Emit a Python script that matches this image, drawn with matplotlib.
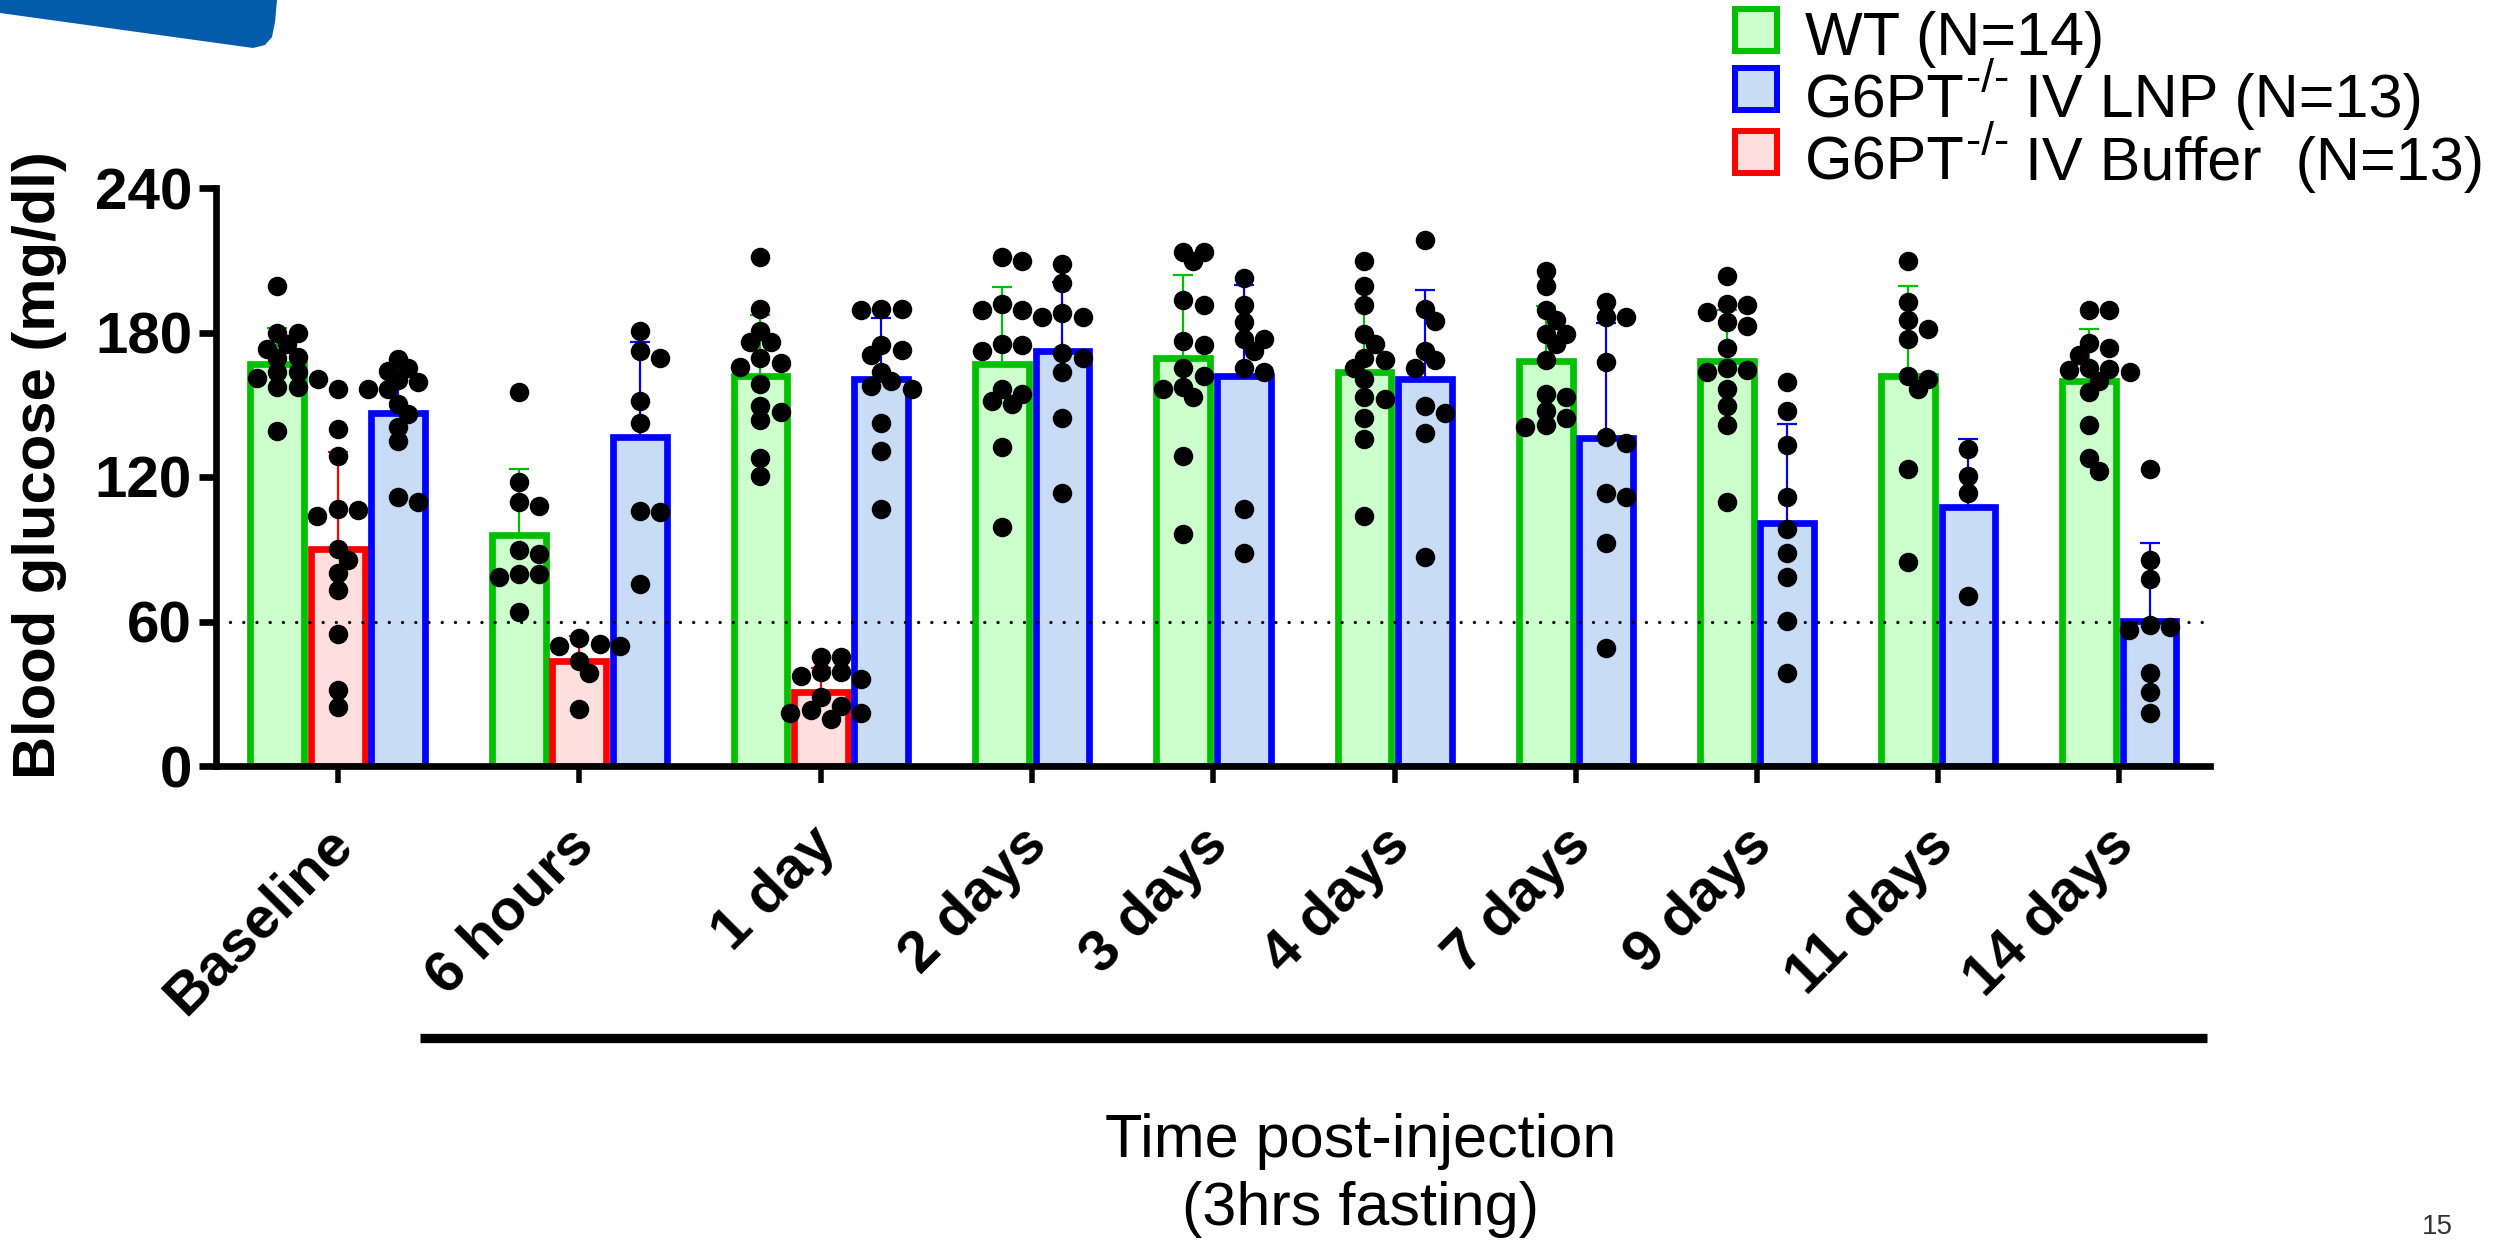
import numpy as np
import matplotlib
matplotlib.use("Agg")
import matplotlib.pyplot as plt
from matplotlib.lines import Line2D
from matplotlib.patches import Polygon, Rectangle
import matplotlib.transforms as mtransforms

plt.rcParams['font.family'] = ['Liberation Sans', 'DejaVu Sans']

# ---------------- data ----------------
categories = ["Baseline", "6 hours", "1 day", "2 days", "3 days",
              "4 days", "7 days", "9 days", "11 days", "14 days"]

wt_mean = [167.0, 96.0, 162.0, 167.0, 169.5, 163.5, 168.0, 168.0, 162.0, 160.0]
wt_sd = [15.0, 27.4, 25.4, 31.8, 34.3, 28.3, 23.2, 21.4, 37.4, 21.4]

lnp_mean = [146.6, 136.6, 160.6, 172.3, 162.0, 160.6, 136.0, 101.1, 107.7, 60.3]
lnp_sd = [20.5, 39.4, 25.4, 28.8, 37.7, 36.9, 48.0, 40.9, 28.1, 32.3]

buffer_mean = [90.0, 43.4, 30.9]
buffer_sd = [40.3, 10.6, 9.7]

wt_points = [
    [199.2, 180.0, 179.7, 175.4, 173.2, 170.0, 169.4, 163.7, 163.7, 161.2, 160.6, 157.2, 157.2, 139.2],
    [155.5, 117.8, 108.0, 109.7, 88.0, 89.7, 79.7, 78.5, 79.7, 63.8],
    [211.4, 189.8, 180.5, 176.2, 176.2, 169.4, 167.5, 165.8, 158.6, 149.5, 146.9, 143.5, 127.7, 120.5],
    [209.7, 211.4, 192.0, 189.4, 189.4, 174.9, 175.4, 172.3, 156.5, 154.6, 151.4, 150.4, 132.5, 99.4],
    [213.4, 213.4, 209.5, 193.7, 191.5, 174.9, 176.6, 165.4, 162.0, 157.4, 153.4, 156.4, 128.6, 96.5],
    [209.5, 199.4, 191.5, 179.5, 175.4, 169.4, 168.5, 165.4, 160.6, 153.4, 152.2, 144.4, 135.8, 103.7],
    [205.4, 199.4, 189.4, 185.1, 179.5, 179.5, 175.4, 168.5, 153.4, 154.6, 147.4, 144.4, 140.6, 141.4],
    [203.5, 188.6, 192.0, 191.5, 184.3, 182.6, 173.5, 163.7, 165.4, 164.6, 156.5, 149.5, 141.4, 109.7],
    [209.5, 192.5, 185.1, 181.4, 177.4, 162.0, 160.6, 156.5, 123.4, 84.5],
    [189.4, 189.4, 175.7, 173.7, 170.6, 165.4, 165.0, 164.6, 163.7, 159.8, 155.5, 141.4, 127.7, 122.6],
]

lnp_points = [
    [168.9, 164.2, 165.1, 159.4, 160.3, 156.4, 156.4, 150.5, 146.1, 140.6, 134.9, 109.7, 111.8],
    [180.5, 172.3, 169.6, 151.4, 142.3, 105.9, 105.4, 75.4],
    [189.8, 189.4, 189.8, 174.9, 170.6, 172.6, 163.7, 157.7, 156.5, 159.8, 142.3, 130.6, 106.6],
    [208.3, 200.6, 186.4, 188.2, 186.4, 171.4, 169.4, 163.7, 144.4, 113.5],
    [202.6, 191.5, 184.3, 177.4, 177.4, 172.3, 165.4, 163.7, 106.6, 88.6],
    [218.6, 189.8, 184.6, 172.3, 168.5, 165.4, 146.6, 149.5, 138.3, 86.6],
    [192.5, 186.4, 186.4, 167.7, 134.1, 136.6, 111.8, 113.5, 92.6, 48.9],
    [159.4, 147.4, 133.4, 111.8, 98.6, 88.6, 78.5, 60.3, 38.6],
    [131.5, 120.5, 113.5, 70.6],
    [123.4, 85.4, 77.7, 58.6, 56.6, 57.8, 38.6, 30.9, 21.8],
]

buffer_points = [
    [156.5, 140.0, 128.6, 106.8, 106.5, 104.0, 90.0, 85.5, 80.0, 72.9, 54.9, 31.7, 24.5],
    [53.1, 49.7, 50.6, 49.7, 43.7, 38.6, 23.7],
    [45.1, 45.1, 36.0, 37.2, 38.9, 38.9, 28.6, 24.9, 21.8, 21.8, 23.1, 19.7],
]

legend_entries = [
    ("wt", "WT (N=14)", "", ""),
    ("lnp", "G6PT", "-/-", " IV LNP (N=13)"),
    ("buf", "G6PT", "-/-", " IV Buffer  (N=13)"),
]

y_ticks = [0, 60, 120, 180, 240]
threshold = 60
x_title = ["Time post-injection", "(3hrs fasting)"]
y_title = "Blood glucose (mg/dl)"
page_number = "15"

# ---------------- style ----------------
W, H, DPI = 2502, 1242, 100
colors = {
    "wt": dict(face="#CCFFCC", edge="#00C000"),
    "lnp": dict(face="#C8DCF5", edge="#0000FF"),
    "buf": dict(face="#FFDEDE", edge="#FF0000"),
}
PX = 72.0 / DPI  # points per pixel
LW = 6.7 * PX

fig = plt.figure(figsize=(W / DPI, H / DPI), dpi=DPI)


def fx(px):
    return px / W


def fy(py):
    return 1 - py / H


AX_L, AX_R, AX_T, AX_B = 216, 2210, 188, 766
ax = fig.add_axes([fx(AX_L), fy(AX_B), (AX_R - AX_L) / W, (AX_B - AX_T) / H])

# positions
positions = {}
tick_pos = []
pos = 0
for i in range(len(categories)):
    keys = ["wt"] + (["buf"] if i < len(buffer_mean) else []) + ["lnp"]
    xs = []
    for k in keys:
        positions[(k, i)] = pos
        xs.append(pos)
        pos += 1
    tick_pos.append(float(np.mean(xs)))
    pos += 1

x_left = -1.015
x_right = tick_pos[-1] + 1.5
ax.set_xlim(x_left, x_right)
ax.set_ylim(0, 240)

px_per_x = (AX_R - AX_L) / (x_right - x_left)
px_per_y = (AX_B - AX_T) / 240.0
DOT = 19.5


def swarm(vals, center):
    vals = np.asarray(vals, dtype=float)
    min_d = 0.70 * DOT
    step = 0.52 * DOT
    placed = []
    offs = np.zeros(len(vals))
    order = np.argsort(-vals)
    for idx in order:
        yv = vals[idx] * px_per_y
        chosen = 0.0
        for k in [0, 1, -1, 2, -2, 3, -3, 4, -4, 5, -5]:
            ox = k * step
            if all((ox - a) ** 2 + (yv - b) ** 2 >= min_d ** 2 for a, b in placed):
                chosen = ox
                break
        placed.append((chosen, yv))
        offs[idx] = chosen
    return center + offs / px_per_x


series = [("wt", wt_mean, wt_sd, wt_points),
          ("buf", buffer_mean, buffer_sd, buffer_points),
          ("lnp", lnp_mean, lnp_sd, lnp_points)]

for key, means, sds, pts in series:
    xs = [positions[(key, i)] for i in range(len(means))]
    ax.bar(xs, means, width=0.89, color=colors[key]["face"],
           edgecolor=colors[key]["edge"], linewidth=LW, zorder=2)
    ax.errorbar(xs, means, yerr=[np.zeros(len(sds)), sds], fmt="none",
                ecolor=colors[key]["edge"], elinewidth=2.2 * PX,
                capsize=10 * PX, capthick=2.2 * PX, zorder=3)
    for i, p in enumerate(pts):
        sx = swarm(p, xs[i])
        ax.scatter(sx, p, s=(DOT * PX) ** 2, color="black", linewidths=0,
                   zorder=5, clip_on=False)

ax.axhline(threshold, xmin=(230 - AX_L) / (AX_R - AX_L), xmax=1, color="black",
           linewidth=3.3 * PX, linestyle=(0, (0.01, 4.0)),
           dash_capstyle="round", zorder=4)

for s in ["top", "right"]:
    ax.spines[s].set_visible(False)
for s in ["left", "bottom"]:
    ax.spines[s].set_linewidth(LW)
    ax.spines[s].set_zorder(6)

ax.set_yticks(y_ticks)
ax.set_yticklabels([str(v) for v in y_ticks], fontsize=42, fontweight="bold")
ax.tick_params(axis="y", length=17 * PX, width=LW, pad=5, direction="out")
ax.set_xticks(tick_pos)
ax.set_xticklabels(categories, rotation=45, ha="right", va="baseline",
                   rotation_mode="anchor", fontsize=42, fontweight="bold")
ax.tick_params(axis="x", length=17 * PX, width=5.5 * PX, pad=64 * PX,
               direction="out")
offset = mtransforms.ScaledTranslation(0.17, 0, fig.dpi_scale_trans)
for lbl in ax.get_xticklabels():
    lbl.set_transform(lbl.get_transform() + offset)

# y title
fig.text(fx(40), fy(465), y_title, rotation=90, ha="center", va="center",
         fontsize=43, fontweight="bold")

# x title
fig.text(fx(1361), fy(1157), x_title[0], ha="center", va="baseline", fontsize=44)
fig.text(fx(1361), fy(1225), x_title[1], ha="center", va="baseline", fontsize=44)

# bracket line under the time points
fig.add_artist(Line2D([fx(420), fx(2207)], [fy(1038), fy(1038)],
                      transform=fig.transFigure, color="black",
                      linewidth=9.3 * PX, solid_capstyle="butt"))

# decorative blue shape at top-left
shape_px = [(0, 0), (277, 0), (275, 22), (272, 37), (265, 45), (253, 48), (0, 13)]
fig.add_artist(Polygon([(fx(a), fy(b)) for a, b in shape_px], closed=True,
                       transform=fig.transFigure, facecolor="#035CA9",
                       edgecolor="none"))

# page number
fig.text(fx(2422), fy(1240), page_number, ha="left", va="bottom", fontsize=20,
         color="#333333")

# legend (manual)
renderer = fig.canvas.get_renderer()
baselines = [55, 117, 180]
sq_centers = [30, 89, 152]
SQW, SQH = 48 - 6.0, 48 - 6.0
for (key, main, sup, rest), bl, cy in zip(legend_entries, baselines, sq_centers):
    fig.add_artist(Rectangle((fx(1756 - SQW / 2), fy(cy + SQH / 2)), SQW / W, SQH / H,
                             transform=fig.transFigure,
                             facecolor=colors[key]["face"],
                             edgecolor=colors[key]["edge"], linewidth=6.0 * PX))
    t = fig.text(fx(1805), fy(bl), main, ha="left", va="baseline", fontsize=44)
    x_end = t.get_window_extent(renderer).x1
    if sup:
        ts = fig.text((x_end + 1) / W, fy(bl - 25), sup, ha="left",
                      va="baseline", fontsize=33)
        x_end = ts.get_window_extent(renderer).x1
        fig.text((x_end - 1) / W, fy(bl), rest, ha="left", va="baseline",
                 fontsize=44)

fig.savefig("out.png", dpi=DPI)
